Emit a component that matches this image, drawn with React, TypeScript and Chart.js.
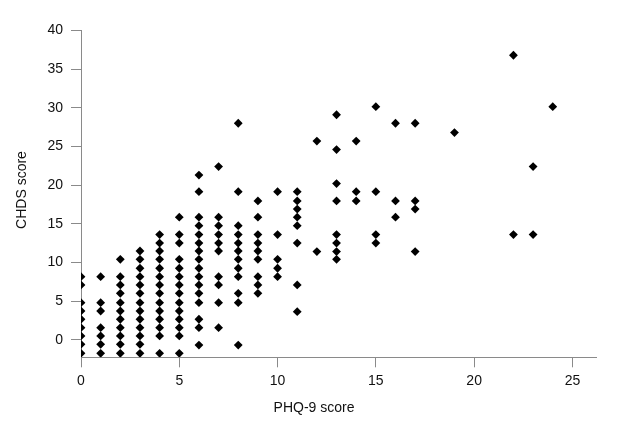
import React, { useEffect, useRef } from "react";
import { Chart, registerables } from "chart.js";

Chart.register(...registerables);

// PHQ-9 score columns and the CHDS scores read at each column
const phq0 = [8.15, 7.08, 4.79, 3.71, 2.64, 1.55, 0.48, -0.6, -1.76];
const phq1 = [8.15, 4.79, 3.71, 1.55, 0.48, -0.6, -1.76];
const phq2 = [10.4, 8.15, 7.08, 6.0, 4.79, 3.71, 2.64, 1.55, 0.48, -0.6, -1.76];
const phq3 = [11.47, 10.4, 9.24, 8.15, 7.08, 6.0, 4.79, 3.71, 2.64, 1.55, 0.48, -0.6, -1.76];
const phq4 = [13.6, 12.5, 11.47, 10.4, 9.24, 8.15, 7.08, 6.0, 4.79, 3.71, 2.64, 1.55, 0.48, -1.76];
const phq5 = [15.85, 13.6, 12.5, 10.4, 9.24, 8.15, 7.08, 6.0, 4.79, 3.71, 2.64, 1.55, 0.48, -1.76];
const phq6 = [21.3, 19.15, 15.85, 14.75, 13.6, 12.5, 11.47, 10.4, 9.24, 8.15, 7.08, 6.0, 4.79, 2.64, 1.55, -0.7];
const phq7 = [22.4, 15.85, 14.75, 13.6, 12.5, 11.47, 8.15, 7.08, 4.79, 1.55];
const phq8 = [28.0, 19.15, 14.75, 13.6, 12.5, 11.47, 10.4, 9.24, 8.15, 6.0, 4.79, -0.7];
const phq9 = [17.95, 15.85, 13.6, 12.5, 11.47, 10.4, 8.15, 7.08, 6.0];
const phq10 = [19.15, 13.6, 10.4, 9.24, 8.15];
const phq11 = [19.15, 17.95, 16.9, 15.85, 14.75, 12.5, 7.08, 3.62];
const phq12 = [25.7, 11.4];
const phq13 = [29.1, 24.6, 20.2, 17.95, 13.6, 12.5, 11.4, 10.4];
const phq14 = [25.7, 19.15, 17.95];
const phq15 = [30.15, 19.15, 13.6, 12.5];
const phq16 = [28.0, 17.95, 15.85];
const phq17 = [28.0, 17.95, 16.9, 11.4];
const phq19 = [26.8];
const phq22 = [36.8, 13.6];
const phq23 = [22.4, 13.6];
const phq24 = [30.15];

const columns: [number, number[]][] = [
  [0, phq0], [1, phq1], [2, phq2], [3, phq3], [4, phq4], [5, phq5],
  [6, phq6], [7, phq7], [8, phq8], [9, phq9], [10, phq10], [11, phq11],
  [12, phq12], [13, phq13], [14, phq14], [15, phq15], [16, phq16],
  [17, phq17], [19, phq19], [22, phq22], [23, phq23], [24, phq24],
];

const xTicks = [0, 5, 10, 15, 20, 25];
const yTicks = [0, 5, 10, 15, 20, 25, 30, 35, 40];
const xTitle = "PHQ-9 score";
const yTitle = "CHDS score";

const FONT = "'Liberation Sans', Arial, sans-serif";
const AXIS = "#8a8a8a";

export default function App() {
  const ref = useRef<HTMLCanvasElement | null>(null);

  useEffect(() => {
    if (!ref.current) return;
    const points = columns.flatMap(([x, ys]) => ys.map((y) => ({ x, y })));

    const titles = {
      id: "axisTitles",
      afterDraw(chart: any) {
        const ctx = chart.ctx;
        ctx.save();
        ctx.fillStyle = "#111";
        ctx.font = `14px ${FONT}`;
        ctx.textAlign = "center";
        ctx.textBaseline = "middle";
        ctx.fillText(xTitle, 314, 408);
        ctx.translate(22, 190);
        ctx.rotate(-Math.PI / 2);
        ctx.fillText(yTitle, 0, 0);
        ctx.restore();
      },
    };

    const chart = new Chart(ref.current, {
      type: "scatter",
      data: {
        datasets: [
          {
            data: points,
            pointStyle: "rectRot",
            radius: 4.4,
            hoverRadius: 4.4,
            backgroundColor: "#000",
            borderColor: "#000",
            borderWidth: 0,
          },
        ],
      },
      options: {
        animation: false,
        responsive: false,
        events: [],
        layout: { padding: { top: 30.5, right: 25, left: 0, bottom: 0 } },
        plugins: { legend: { display: false }, tooltip: { enabled: false } },
        scales: {
          x: {
            type: "linear",
            min: 0,
            max: 26.2,
            afterBuildTicks: (s: any) => {
              s.ticks = xTicks.map((v) => ({ value: v }));
            },
            afterFit: (s: any) => {
              s.height = 70.7;
            },
            grid: {
              drawOnChartArea: false,
              drawTicks: true,
              tickLength: 10,
              color: AXIS,
            },
            border: { display: true, color: AXIS, width: 1 },
            ticks: {
              color: "#111",
              font: { family: FONT, size: 14 },
              padding: 5,
              maxRotation: 0,
            },
          },
          y: {
            type: "linear",
            min: -2.28,
            max: 40,
            afterBuildTicks: (s: any) => {
              s.ticks = yTicks.map((v) => ({ value: v }));
            },
            afterFit: (s: any) => {
              s.width = 81;
            },
            grid: {
              drawOnChartArea: false,
              drawTicks: true,
              tickLength: 10,
              color: AXIS,
            },
            border: { display: true, color: AXIS, width: 1 },
            ticks: {
              color: "#111",
              font: { family: FONT, size: 14 },
              padding: 8,
            },
          },
        },
      },
      plugins: [titles],
    });
    return () => chart.destroy();
  }, []);

  return (
    <div style={{ position: "fixed", left: 0, top: 0, width: 621, height: 428, background: "#fff" }}>
      <canvas ref={ref} width={621} height={428} style={{ width: 621, height: 428 }} />
    </div>
  );
}
